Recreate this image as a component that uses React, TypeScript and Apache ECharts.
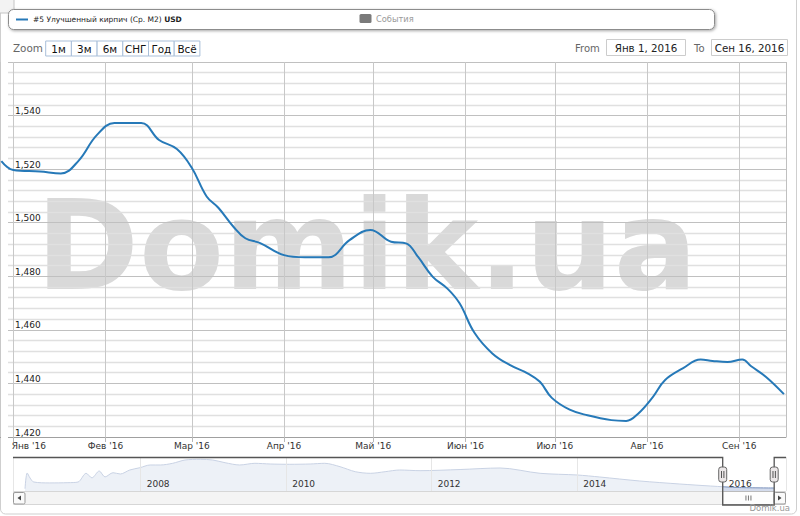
import React, { useEffect, useRef } from "react";
import * as echarts from "echarts";

// ---------- data ----------
const MONTHS = ["Янв", "Фев", "Мар", "Апр", "Май", "Июн", "Июл", "Авг", "Сен", "Окт", "Ноя", "Дек"];
const ZOOM_BUTTONS = ["1м", "3м", "6м", "СНГ", "Год", "Всё"];
const SERIES_NAME = "#5 Улучшенный кирпич (Ср. М2) ";
const SERIES_UNIT = "USD";
const RANGE_FROM = "2016-01-01";
const RANGE_TO = "2016-09-16";
const RANGE_FROM_LABEL = "Янв 1, 2016";
const RANGE_TO_LABEL = "Сен 16, 2016";

const priceDates = [
  "2015-12-28", "2016-01-01", "2016-01-10", "2016-01-17", "2016-01-23", "2016-01-29",
  "2016-02-04", "2016-02-13", "2016-02-19", "2016-02-25", "2016-03-01", "2016-03-06",
  "2016-03-10", "2016-03-15", "2016-03-19", "2016-03-24", "2016-04-01", "2016-04-08",
  "2016-04-16", "2016-04-23", "2016-04-30", "2016-05-07", "2016-05-12", "2016-05-16",
  "2016-05-21", "2016-05-26", "2016-05-30", "2016-06-04", "2016-06-10", "2016-06-16",
  "2016-06-22", "2016-06-26", "2016-06-30", "2016-07-06", "2016-07-12", "2016-07-20",
  "2016-07-25", "2016-07-29", "2016-08-03", "2016-08-07", "2016-08-13", "2016-08-19",
  "2016-08-23", "2016-08-28", "2016-09-02", "2016-09-05", "2016-09-10", "2016-09-16",
];
const priceValues = [
  1523, 1519.7, 1519.1, 1518.4, 1523.2, 1532.6,
  1537.2, 1537.2, 1530.9, 1527.5, 1520.5, 1509.8,
  1505.5, 1498.5, 1494.2, 1492.4, 1487.9, 1487.1,
  1487.1, 1493.5, 1497.3, 1492.9, 1492.3, 1487.3,
  1479.8, 1475.3, 1469.9, 1458.9, 1451.2, 1446.8,
  1443.7, 1440.6, 1434.6, 1430.2, 1428.1, 1426.3,
  1426, 1428.7, 1435, 1441.2, 1445.6, 1448.9,
  1448.4, 1448, 1448.9, 1446.4, 1442.4, 1436,
];

// navigator (whole history, decimal years)
const navYears = [
  2006.41, 2006.44, 2006.48, 2006.53, 2006.75, 2007.0, 2007.14, 2007.25, 2007.33,
  2007.43, 2007.51, 2007.62, 2007.72, 2007.85, 2007.99, 2008.13, 2008.27, 2008.44,
  2008.61, 2008.82, 2008.99, 2009.16, 2009.36, 2009.57, 2009.78, 2010.05, 2010.33,
  2010.53, 2010.74, 2010.95, 2011.16, 2011.36, 2011.56, 2011.84, 2012.39, 2012.94,
  2013.49, 2014.0, 2014.31, 2014.86, 2015.41, 2015.83, 2016.23, 2016.71,
];
const navValues = [
  1400, 2080, 1860, 1690, 1650, 1660, 1690, 2066, 1870,
  2166, 1910, 2092, 2036, 2209, 2309, 2426, 2426, 2499,
  2642, 2671, 2642, 2525, 2426, 2499, 2469, 2456, 2469,
  2499, 2352, 2136, 2066, 2136, 2209, 2180, 2230, 2296,
  2066, 1993, 1906, 1733, 1603, 1516, 1450, 1430,
];

// ---------- helpers ----------
const toTs = (s: string) => {
  const [y, m, d] = s.split("-").map(Number);
  return new Date(y, m - 1, d).getTime();
};
const toDecYear = (ts: number) => {
  const y = new Date(ts).getFullYear();
  const a = new Date(y, 0, 1).getTime();
  const b = new Date(y + 1, 0, 1).getTime();
  return y + (ts - a) / (b - a);
};
const FONT = '"DejaVu Sans", Verdana, sans-serif';
const DAY = 86400000;
const LEFT_PAD_DAYS = 4.45;

export default function App() {
  const ref = useRef<HTMLDivElement>(null);
  useEffect(() => {
    if (!ref.current) return;
    const chart = echarts.init(ref.current, null, { renderer: "svg" });
    const mainData = priceDates.map((s, i) => [toTs(s), priceValues[i]]);
    const navData = navYears.map((y, i) => [y, navValues[i]]);
    const fromTs = toTs(RANGE_FROM);

    const option: any = {
      animation: false,
      backgroundColor: "#fff",
      textStyle: { fontFamily: FONT },
      grid: [
        { left: 0, right: 14, top: 62, height: 375 },
        { left: 13, right: 14, top: 457, height: 34 },
      ],
      xAxis: [
        {
          type: "time",
          gridIndex: 0,
          min: fromTs - LEFT_PAD_DAYS * DAY,
          max: toTs(RANGE_TO) + 0.7 * DAY,
          minInterval: 28 * DAY,
          maxInterval: 31 * DAY,
          axisLine: { show: true, lineStyle: { color: "#a0a0a0", width: 1 } },
          axisTick: { show: true, length: 5, lineStyle: { color: "#b8b8b8" } },
          axisLabel: {
            fontSize: 9,
            color: "#333",
            fontFamily: FONT,
            margin: 4,
            showMinLabel: false,
            showMaxLabel: false,
            formatter: (v: number) => {
              const dt = new Date(v);
              const s = MONTHS[dt.getMonth()] + " '" + String(dt.getFullYear()).slice(2);
              return Math.abs(v - fromTs) < DAY ? `{f|${s}}` : s;
            },
            rich: {
              f: { fontSize: 9, color: "#333", fontFamily: FONT, padding: [0, 0, 0, 31] },
            },
          },
          splitLine: { show: true, lineStyle: { color: "#c8c8c8", width: 1 } },
          z: 2,
        },
        {
          type: "value",
          gridIndex: 1,
          min: 2006.245,
          max: 2016.87,
          splitNumber: 5,
          axisLine: { show: false },
          axisTick: { show: false },
          axisLabel: {
            inside: true,
            fontSize: 9,
            color: "#333",
            fontFamily: FONT,
            align: "left",
            padding: [0, 0, 0, 6],
            margin: 3,
            showMinLabel: false,
            showMaxLabel: false,
            formatter: (v: number) => String(Math.round(v)),
          },
          splitLine: { show: true, lineStyle: { color: "#e6e6e6", width: 1 } },
          z: 10,
        },
      ],
      yAxis: [
        {
          type: "value",
          gridIndex: 0,
          min: 1420,
          max: 1560,
          interval: 20,
          axisLine: { show: false },
          axisTick: { show: false },
          axisLabel: {
            inside: true,
            margin: 15,
            fontSize: 9,
            color: "#222",
            fontFamily: FONT,
            verticalAlign: "bottom",
            showMaxLabel: false,
            showMinLabel: true,
            formatter: (v: number) => v.toLocaleString("en-US"),
          },
          splitLine: { show: true, lineStyle: { color: "#c0c0c0", width: 1 } },
          minorTick: { show: false, splitNumber: 5 },
          minorSplitLine: { show: true, lineStyle: { color: "#e0e0e0", width: 1.3 } },
          z: 2,
        },
        {
          type: "value",
          gridIndex: 1,
          min: 1300,
          max: 2772,
          show: false,
          splitLine: { show: false },
        },
      ],
      series: [
        {
          type: "line",
          name: SERIES_NAME + SERIES_UNIT,
          xAxisIndex: 0,
          yAxisIndex: 0,
          data: mainData,
          showSymbol: false,
          smooth: 0.4,
          lineStyle: { color: "#2679b8", width: 2 },
          z: 5,
        },
        {
          type: "line",
          xAxisIndex: 1,
          yAxisIndex: 1,
          data: navData,
          showSymbol: false,
          smooth: 0.3,
          lineStyle: { color: "#7890bb", width: 1 },
          areaStyle: { color: "rgba(96,126,186,0.40)", origin: "start" },
          z: 3,
        },
      ],
    };
    chart.setOption(option);

    const selL = chart.convertToPixel({ xAxisIndex: 1 }, toDecYear(toTs(RANGE_FROM))) as number;
    const selR = chart.convertToPixel({ xAxisIndex: 1 }, toDecYear(toTs(RANGE_TO))) as number;
    const navTop = 457.5, navBot = 491, sbBot = 505, navL = 13, navR = 786;

    const txt = (id: string, x: number, y: number, text: string, size: number, fill: string, align = "left") => ({
      type: "text",
      id,
      x,
      y,
      z: 20,
      style: {
        text,
        fill,
        font: `${size}px ${FONT}`,
        align,
        textAlign: align,
        verticalAlign: "middle",
        textVerticalAlign: "middle",
      },
    });

    const els: any[] = [];
    // watermark
    els.push({
      type: "text",
      id: "wm",
      x: 36,
      y: 246,
      z: -10,
      silent: true,
      style: {
        text: "Domik.ua",
        fill: "#d9d9d9",
        font: `bold 124px ${FONT}`,
        align: "left",
        textAlign: "left",
        verticalAlign: "middle",
        textVerticalAlign: "middle",
      },
    });
    // left margin cover (plot area begins at the first month line; ticks stick out 5px)
    els.push({ type: "rect", id: "lcover", z: 3, silent: true, shape: { x: 1, y: 60, width: 7, height: 385 }, style: { fill: "#fff" } });
    // top-left stub
    els.push({ type: "rect", id: "stub", z: 20, shape: { x: -6, y: -8, width: 20, height: 21, r: 4 }, style: { fill: "#f3f3f3", stroke: "#c4c4c4", lineWidth: 1 } });
    // legend box
    els.push({
      type: "rect", id: "legbox", z: 20,
      shape: { x: 8.5, y: 9.5, width: 706, height: 20, r: 5 },
      style: { fill: "#fff", stroke: "#8c8c8c", lineWidth: 1, shadowBlur: 3, shadowColor: "rgba(0,0,0,0.35)", shadowOffsetX: 1, shadowOffsetY: 1 },
    });
    els.push({ type: "line", id: "legline", z: 21, shape: { x1: 16, y1: 19.5, x2: 28, y2: 19.5 }, style: { stroke: "#2679b8", lineWidth: 2 } });
    els.push({
      type: "text", id: "legtxt", x: 33, y: 19.5, z: 21,
      style: {
        text: `{n|${SERIES_NAME}}{b|${SERIES_UNIT}}`,
        rich: {
          n: { fontSize: 7.5, fontFamily: FONT, fill: "#222", color: "#222" },
          b: { fontSize: 7.5, fontFamily: FONT, fontWeight: "bold", fill: "#222", color: "#222" },
        },
        font: `7.5px ${FONT}`,
        verticalAlign: "middle",
        textVerticalAlign: "middle",
      },
    });
    els.push({ type: "rect", id: "evbox", z: 21, shape: { x: 359.5, y: 14, width: 12, height: 9, r: 1.5 }, style: { fill: "#7a7a7a" } });
    els.push(txt("evtxt", 376, 19, "События", 8.3, "#9a9a9a"));

    // zoom row
    els.push(txt("zoomlbl", 13, 48, "Zoom", 10.4, "#666"));
    const bx0 = 45.7, bw = 25.7;
    ZOOM_BUTTONS.forEach((b, i) => {
      els.push({
        type: "rect", id: "zb" + i, z: 20,
        shape: { x: bx0 + i * bw, y: 41, width: bw, height: 15 },
        style: { fill: "#fff", stroke: "#a9bfd9", lineWidth: 1 },
      });
      els.push(txt("zbt" + i, bx0 + i * bw + bw / 2, 48.5, b, 10.4, "#111", "center"));
    });
    els.push(txt("fromlbl", 575, 48, "From", 10, "#666"));
    els.push({ type: "rect", id: "frombox", z: 20, shape: { x: 606.5, y: 39.5, width: 79, height: 16 }, style: { fill: "#fff", stroke: "#cccccc", lineWidth: 1 } });
    els.push(txt("fromtxt", 646, 48, RANGE_FROM_LABEL, 10.3, "#222", "center"));
    els.push(txt("tolbl", 694, 48, "To", 10, "#666"));
    els.push({ type: "rect", id: "tobox", z: 20, shape: { x: 711.5, y: 39.5, width: 76, height: 16 }, style: { fill: "#fff", stroke: "#cccccc", lineWidth: 1 } });
    els.push(txt("totxt", 749.5, 48, RANGE_TO_LABEL, 10.3, "#222", "center"));

    // plot right border
    els.push({ type: "line", id: "pr", z: 4, shape: { x1: 786.5, y1: 62, x2: 786.5, y2: 437 }, style: { stroke: "#c0c0c0", lineWidth: 1 } });

    // navigator masks
    els.push({ type: "rect", id: "mask1", z: 6, shape: { x: navL, y: navTop, width: selL - navL, height: navBot - navTop }, style: { fill: "rgba(255,255,255,0.6)" } });
    els.push({ type: "rect", id: "mask2", z: 6, shape: { x: selR, y: navTop, width: navR - selR, height: navBot - navTop }, style: { fill: "rgba(255,255,255,0.6)" } });

    // scrollbar
    els.push({ type: "rect", id: "sbtrack", z: 7, shape: { x: navL + 0.5, y: navBot + 0.5, width: navR - navL - 1, height: sbBot - navBot - 1 }, style: { fill: "#f4f4f4", stroke: "#d6d6d6", lineWidth: 1 } });
    els.push({ type: "rect", id: "sbthumb", z: 8, shape: { x: selL, y: navBot + 0.5, width: selR - selL, height: sbBot - navBot - 1 }, style: { fill: "#fdfdfd", stroke: "#bbb", lineWidth: 1 } });
    [-2.5, 0, 2.5].forEach((o, i) => {
      els.push({ type: "line", id: "grip" + i, z: 9, shape: { x1: (selL + selR) / 2 + o, y1: 495.5, x2: (selL + selR) / 2 + o, y2: 500.5 }, style: { stroke: "#777", lineWidth: 1 } });
    });
    els.push({ type: "rect", id: "sbl", z: 9, shape: { x: navL + 0.5, y: navBot + 1.5, width: 11.5, height: 11.5, r: 1.5 }, style: { fill: "#fafafa", stroke: "#999", lineWidth: 1 } });
    els.push({ type: "polygon", id: "sbla", z: 10, shape: { points: [[navL + 8, 495.5], [navL + 8, 500.5], [navL + 4.5, 498]] }, style: { fill: "#444" } });
    els.push({ type: "rect", id: "sbr", z: 9, shape: { x: navR - 12, y: navBot + 1.5, width: 11.5, height: 11.5, r: 1.5 }, style: { fill: "#fafafa", stroke: "#999", lineWidth: 1 } });
    els.push({ type: "polygon", id: "sbra", z: 10, shape: { points: [[navR - 8, 495.5], [navR - 8, 500.5], [navR - 4.5, 498]] }, style: { fill: "#444" } });

    // navigator outline
    els.push({
      type: "polyline", id: "outline", z: 11,
      shape: { points: [[navL, navTop], [selL, navTop], [selL, sbBot], [selR, sbBot], [selR, navTop], [navR, navTop]] },
      style: { stroke: "#555", lineWidth: 1.3, fill: null },
    });
    // handles
    [selL, selR].forEach((hx, i) => {
      els.push({ type: "rect", id: "h" + i, z: 12, shape: { x: hx - 4, y: 467, width: 8, height: 15, r: 2.5 }, style: { fill: "#ebe7e8", stroke: "#666", lineWidth: 1 } });
      els.push({ type: "line", id: "h" + i + "a", z: 13, shape: { x1: hx - 1.2, y1: 471, x2: hx - 1.2, y2: 478 }, style: { stroke: "#555", lineWidth: 1 } });
      els.push({ type: "line", id: "h" + i + "b", z: 13, shape: { x1: hx + 1.2, y1: 471, x2: hx + 1.2, y2: 478 }, style: { stroke: "#555", lineWidth: 1 } });
    });

    // credits
    els.push(txt("credits", 790, 508, "Domik.ua", 8.5, "#999", "right"));
    // outer border
    els.push({ type: "rect", id: "outer", z: 1, shape: { x: 0.5, y: -10, width: 796, height: 524, r: 5 }, style: { fill: null, stroke: "#cfcfcf", lineWidth: 1 } });

    chart.setOption({ graphic: { elements: els } });
    return () => chart.dispose();
  }, []);

  return <div ref={ref} style={{ width: 800, height: 516, position: "absolute", left: 0, top: 0 }} />;
}
